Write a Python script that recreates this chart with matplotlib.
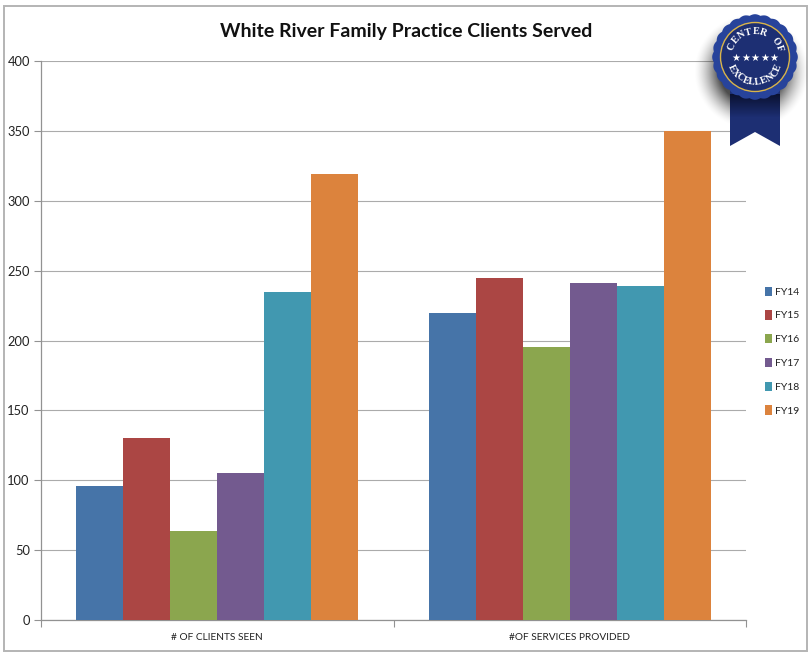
import numpy as np
import matplotlib
matplotlib.use("Agg")
import matplotlib.pyplot as plt
from matplotlib.patches import Circle, Polygon, Rectangle

categories = ["# OF CLIENTS SEEN", "#OF SERVICES PROVIDED"]
series_names = ["FY14", "FY15", "FY16", "FY17", "FY18", "FY19"]
fy14 = [96, 220]
fy15 = [130, 245]
fy16 = [64, 195]
fy17 = [105, 241]
fy18 = [235, 239]
fy19 = [319, 350]
series_values = [fy14, fy15, fy16, fy17, fy18, fy19]
colors = ["#4674A8", "#AB4644", "#8BA64E", "#735A8F", "#4198B0", "#DC833D"]
y_ticks = [0, 50, 100, 150, 200, 250, 300, 350, 400]

plt.rcParams["font.family"] = ["Lato", "DejaVu Sans"]
W, H = 810, 654
fig = plt.figure(figsize=(W / 100, H / 100), dpi=100, facecolor="white")

# outer chart frame
bg = fig.add_axes([0, 0, 1, 1], zorder=0)
bg.set_xlim(0, W); bg.set_ylim(H, 0); bg.axis("off")
bg.add_patch(Rectangle((4, 6), 803, 645, fill=False, ec="#B4B4B4", lw=1.4))

ax = fig.add_axes([41 / W, 1 - 620 / H, 705 / W, 559 / H], zorder=1)
ax.patch.set_alpha(0)
bar_w = 0.8 / len(series_values)
for i, (vals, c, name) in enumerate(zip(series_values, colors, series_names)):
    ax.bar(np.arange(len(categories)) + (i - 2.5) * bar_w, vals, bar_w, color=c,
           label=name, zorder=3)
ax.set_xlim(-0.5, 1.5)
ax.set_ylim(0, 400)
ax.set_yticks(y_ticks)
ax.set_xticks([0, 1], categories)
ax.set_xticks([-0.5, 0.5, 1.5], minor=True)
ax.grid(axis="y", color="#ABABAB", lw=0.8, zorder=0)
ax.set_axisbelow(True)
for s in ["top", "right"]:
    ax.spines[s].set_visible(False)
for s in ["left", "bottom"]:
    ax.spines[s].set_color("#929292")
    ax.spines[s].set_linewidth(0.9)
ax.tick_params(axis="y", labelsize=9.3, length=5, width=0.8, color="#929292", labelcolor="#222222", pad=3)
ax.tick_params(axis="x", which="major", labelsize=7.3, length=0, labelcolor="#222222", pad=9.5)
ax.tick_params(axis="x", which="minor", length=5, width=0.8, color="#929292")

leg = ax.legend(loc="upper left", bbox_to_anchor=(724 / 705, (620 - 286.5) / 559),
                frameon=False, fontsize=7.5, handlelength=0.7, handleheight=1.0,
                labelspacing=1.3, handletextpad=0.28, borderpad=0, borderaxespad=0,
                labelcolor="#222222")

fig.text(406.5 / W, 1 - 32 / H, "White River Family Practice Clients Served", ha="center",
         va="center", fontsize=14.0, fontweight="bold", color="#111111")

# badge overlay, in pixel coordinates
ov = fig.add_axes([0, 0, 1, 1], zorder=5)
ov.set_xlim(0, W); ov.set_ylim(H, 0); ov.axis("off"); ov.patch.set_alpha(0)
navy = "#1D2F73"; blue = "#27439B"; cx, cy = 755, 57

# soft drop shadow, offset down and left
yy, xx = np.mgrid[0:H, 0:W]
d = np.hypot(xx - (cx - 4), yy - (cy + 14))
alpha = np.clip((58 - d) / 26, 0, 1) ** 1.6 * 0.7
shadow = np.zeros((H, W, 4)); shadow[..., 3] = alpha
ov.imshow(shadow, extent=(0, W, H, 0), zorder=1, aspect="auto", interpolation="bilinear")

ov.add_patch(Polygon([(730, 90), (780, 90), (780, 146), (755, 132), (730, 146)],
                     closed=True, fc=navy, ec="none", zorder=2))
# shaded top of the ribbon beneath the seal
grad = np.zeros((24, 1, 4)); grad[..., 0] = 0.03; grad[..., 1] = 0.05; grad[..., 2] = 0.15
grad[:, 0, 3] = np.linspace(0.85, 0, 24)
ov.imshow(grad, extent=(730, 780, 118, 94), zorder=3, aspect="auto")

t = np.linspace(0, 2 * np.pi, 721)
r = 41.5 + 1.3 * np.abs(np.cos(t * 12))
ov.add_patch(Polygon(np.c_[cx + r * np.cos(t), cy + r * np.sin(t)], closed=True,
                     fc=blue, ec="none", zorder=4))
ov.add_patch(Circle((cx, cy), 34.5, fc=navy, ec="#D9B44A", lw=1.0, zorder=5))

def arc_text(s, radius, center_deg, step, top):
    n = len(s)
    for k, ch in enumerate(s):
        off = (k - (n - 1) / 2) * step
        if top:
            a = np.radians(center_deg - off)
            rot = center_deg - off - 90
        else:
            a = np.radians(center_deg + off)
            rot = center_deg + off + 90
        ov.text(cx + radius * np.cos(a), cy - radius * np.sin(a), ch, rotation=rot,
                rotation_mode="anchor", ha="center", va="center", color="white",
                fontsize=7.2, fontweight="bold", family="Liberation Serif", zorder=6)

arc_text("CENTER OF", 25.5, 88, 17, True)
arc_text("EXCELLENCE", 25.5, 270, 14.5, False)
for dx in [-19, -9.5, 0, 9.5, 19]:
    ov.text(cx + dx, cy + 1, "★", ha="center", va="center", color="white", fontsize=7.2,
            family="DejaVu Sans", zorder=6)
ov.set_xlim(0, W); ov.set_ylim(H, 0)

fig.savefig("out.png", dpi=100, facecolor="white")
